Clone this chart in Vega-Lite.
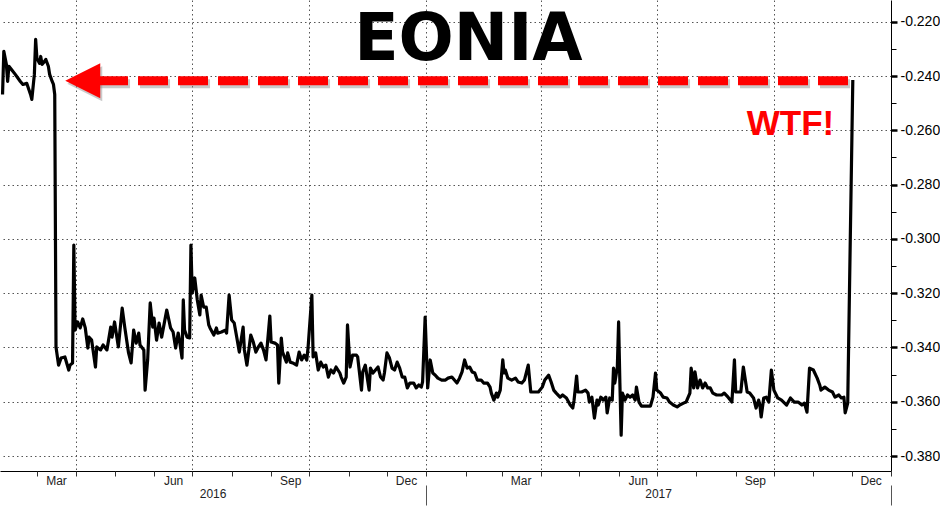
{
  "$schema": "https://vega.github.io/schema/vega-lite/v6.json",
  "width": 891,
  "height": 471,
  "padding": 0,
  "background": "white",
  "config": {
    "view": {"stroke": null},
    "axis": {"labelFont": "Liberation Sans", "labelColor": "#000", "title": null}
  },
  "resolve": {"axis": {"x": "independent", "y": "independent"}},
  "layer": [
    {
      "data": {"values": [{}]},
      "mark": {"type": "rule", "color": "#8a8a8a", "opacity": 0.45, "strokeWidth": 9, "strokeDash": [30, 10], "xOffset": 2, "x2Offset": 2, "yOffset": 3},
      "encoding": {
        "x": {"datum": {"year": 2016, "month": 4, "date": 18, "utc": true}, "type": "temporal", "axis": null},
        "x2": {"datum": {"year": 2017, "month": 12, "date": 1, "utc": true}},
        "y": {"datum": -0.2417, "type": "quantitative", "axis": null}
      }
    },
    {
      "data": {"values": [{}]},
      "mark": {"type": "point", "shape": "M -1 0 L 1 -1 L 1 1 Z", "size": 1225, "filled": true, "color": "#8a8a8a", "opacity": 0.45, "xOffset": 2, "yOffset": 3},
      "encoding": {
        "x": {"datum": {"year": 2016, "month": 4, "date": 6, "utc": true}, "type": "temporal", "axis": null},
        "y": {"datum": -0.2417, "type": "quantitative", "axis": null}
      }
    },
    {
      "data": {"values": [
        {"d": "2016-02-03", "v": -0.2468}, {"d": "2016-02-04", "v": -0.2309}, {"d": "2016-02-06", "v": -0.2357}, {"d": "2016-02-07", "v": -0.2420},
        {"d": "2016-02-08", "v": -0.2364}, {"d": "2016-02-10", "v": -0.2376}, {"d": "2016-02-13", "v": -0.2394}, {"d": "2016-02-17", "v": -0.2420},
        {"d": "2016-02-19", "v": -0.2431}, {"d": "2016-02-22", "v": -0.2427}, {"d": "2016-02-25", "v": -0.2468}, {"d": "2016-02-26", "v": -0.2486},
        {"d": "2016-02-28", "v": -0.2394}, {"d": "2016-02-29", "v": -0.2265}, {"d": "2016-03-01", "v": -0.2335}, {"d": "2016-03-03", "v": -0.2353},
        {"d": "2016-03-04", "v": -0.2328}, {"d": "2016-03-05", "v": -0.2357}, {"d": "2016-03-07", "v": -0.2346}, {"d": "2016-03-08", "v": -0.2339},
        {"d": "2016-03-10", "v": -0.2364}, {"d": "2016-03-11", "v": -0.2394}, {"d": "2016-03-13", "v": -0.2420}, {"d": "2016-03-14", "v": -0.2431},
        {"d": "2016-03-15", "v": -0.2468}, {"d": "2016-03-16", "v": -0.3398}, {"d": "2016-03-18", "v": -0.3465}, {"d": "2016-03-20", "v": -0.3439},
        {"d": "2016-03-23", "v": -0.3435}, {"d": "2016-03-26", "v": -0.3483}, {"d": "2016-03-27", "v": -0.3465}, {"d": "2016-03-29", "v": -0.3457},
        {"d": "2016-03-30", "v": -0.3023}, {"d": "2016-03-31", "v": -0.3336}, {"d": "2016-04-02", "v": -0.3306}, {"d": "2016-04-04", "v": -0.3328},
        {"d": "2016-04-06", "v": -0.3295}, {"d": "2016-04-08", "v": -0.3328}, {"d": "2016-04-10", "v": -0.3402}, {"d": "2016-04-11", "v": -0.3362},
        {"d": "2016-04-13", "v": -0.3373}, {"d": "2016-04-16", "v": -0.3472}, {"d": "2016-04-17", "v": -0.3398}, {"d": "2016-04-20", "v": -0.3409},
        {"d": "2016-04-22", "v": -0.3391}, {"d": "2016-04-25", "v": -0.3409}, {"d": "2016-04-28", "v": -0.3325}, {"d": "2016-04-29", "v": -0.3362},
        {"d": "2016-05-01", "v": -0.3306}, {"d": "2016-05-04", "v": -0.3398}, {"d": "2016-05-07", "v": -0.3255}, {"d": "2016-05-09", "v": -0.3325},
        {"d": "2016-05-12", "v": -0.3420}, {"d": "2016-05-14", "v": -0.3457}, {"d": "2016-05-16", "v": -0.3336}, {"d": "2016-05-18", "v": -0.3384},
        {"d": "2016-05-20", "v": -0.3347}, {"d": "2016-05-21", "v": -0.3391}, {"d": "2016-05-24", "v": -0.3409}, {"d": "2016-05-25", "v": -0.3557},
        {"d": "2016-05-27", "v": -0.3446}, {"d": "2016-05-29", "v": -0.3236}, {"d": "2016-05-31", "v": -0.3325}, {"d": "2016-06-01", "v": -0.3292},
        {"d": "2016-06-03", "v": -0.3373}, {"d": "2016-06-05", "v": -0.3310}, {"d": "2016-06-07", "v": -0.3362}, {"d": "2016-06-11", "v": -0.3262},
        {"d": "2016-06-14", "v": -0.3328}, {"d": "2016-06-16", "v": -0.3343}, {"d": "2016-06-18", "v": -0.3402}, {"d": "2016-06-20", "v": -0.3347},
        {"d": "2016-06-21", "v": -0.3373}, {"d": "2016-06-23", "v": -0.3439}, {"d": "2016-06-24", "v": -0.3225}, {"d": "2016-06-25", "v": -0.3336},
        {"d": "2016-06-27", "v": -0.3362}, {"d": "2016-06-29", "v": -0.3365}, {"d": "2016-06-30", "v": -0.3023}, {"d": "2016-07-01", "v": -0.3199},
        {"d": "2016-07-03", "v": -0.3144}, {"d": "2016-07-05", "v": -0.3225}, {"d": "2016-07-07", "v": -0.3280}, {"d": "2016-07-08", "v": -0.3207},
        {"d": "2016-07-10", "v": -0.3251}, {"d": "2016-07-12", "v": -0.3251}, {"d": "2016-07-14", "v": -0.3317}, {"d": "2016-07-15", "v": -0.3328},
        {"d": "2016-07-18", "v": -0.3354}, {"d": "2016-07-20", "v": -0.3328}, {"d": "2016-07-21", "v": -0.3347}, {"d": "2016-07-24", "v": -0.3343},
        {"d": "2016-07-27", "v": -0.3336}, {"d": "2016-07-28", "v": -0.3347}, {"d": "2016-07-30", "v": -0.3207}, {"d": "2016-08-01", "v": -0.3299},
        {"d": "2016-08-03", "v": -0.3310}, {"d": "2016-08-05", "v": -0.3362}, {"d": "2016-08-07", "v": -0.3417}, {"d": "2016-08-10", "v": -0.3325},
        {"d": "2016-08-11", "v": -0.3409}, {"d": "2016-08-13", "v": -0.3465}, {"d": "2016-08-16", "v": -0.3354}, {"d": "2016-08-18", "v": -0.3380},
        {"d": "2016-08-20", "v": -0.3417}, {"d": "2016-08-22", "v": -0.3398}, {"d": "2016-08-24", "v": -0.3384}, {"d": "2016-08-26", "v": -0.3409},
        {"d": "2016-08-28", "v": -0.3446}, {"d": "2016-08-31", "v": -0.3284}, {"d": "2016-09-01", "v": -0.3380}, {"d": "2016-09-04", "v": -0.3384},
        {"d": "2016-09-06", "v": -0.3391}, {"d": "2016-09-07", "v": -0.3531}, {"d": "2016-09-09", "v": -0.3365}, {"d": "2016-09-10", "v": -0.3417},
        {"d": "2016-09-13", "v": -0.3454}, {"d": "2016-09-14", "v": -0.3420}, {"d": "2016-09-16", "v": -0.3454}, {"d": "2016-09-18", "v": -0.3457},
        {"d": "2016-09-21", "v": -0.3465}, {"d": "2016-09-23", "v": -0.3417}, {"d": "2016-09-25", "v": -0.3446}, {"d": "2016-09-27", "v": -0.3428},
        {"d": "2016-09-29", "v": -0.3446}, {"d": "2016-09-30", "v": -0.3402}, {"d": "2016-10-03", "v": -0.3207}, {"d": "2016-10-04", "v": -0.3435},
        {"d": "2016-10-06", "v": -0.3420}, {"d": "2016-10-08", "v": -0.3483}, {"d": "2016-10-10", "v": -0.3454}, {"d": "2016-10-12", "v": -0.3472},
        {"d": "2016-10-14", "v": -0.3465}, {"d": "2016-10-16", "v": -0.3509}, {"d": "2016-10-18", "v": -0.3483}, {"d": "2016-10-20", "v": -0.3494},
        {"d": "2016-10-22", "v": -0.3472}, {"d": "2016-10-25", "v": -0.3494}, {"d": "2016-10-26", "v": -0.3509}, {"d": "2016-10-28", "v": -0.3531},
        {"d": "2016-10-30", "v": -0.3509}, {"d": "2016-10-31", "v": -0.3317}, {"d": "2016-11-02", "v": -0.3472}, {"d": "2016-11-04", "v": -0.3428},
        {"d": "2016-11-07", "v": -0.3428}, {"d": "2016-11-08", "v": -0.3435}, {"d": "2016-11-11", "v": -0.3557}, {"d": "2016-11-12", "v": -0.3490},
        {"d": "2016-11-14", "v": -0.3465}, {"d": "2016-11-17", "v": -0.3557}, {"d": "2016-11-18", "v": -0.3476}, {"d": "2016-11-20", "v": -0.3494},
        {"d": "2016-11-22", "v": -0.3483}, {"d": "2016-11-24", "v": -0.3472}, {"d": "2016-11-26", "v": -0.3509}, {"d": "2016-11-28", "v": -0.3520},
        {"d": "2016-11-29", "v": -0.3494}, {"d": "2016-12-01", "v": -0.3420}, {"d": "2016-12-03", "v": -0.3439}, {"d": "2016-12-05", "v": -0.3476},
        {"d": "2016-12-07", "v": -0.3483}, {"d": "2016-12-09", "v": -0.3454}, {"d": "2016-12-11", "v": -0.3476}, {"d": "2016-12-13", "v": -0.3509},
        {"d": "2016-12-15", "v": -0.3509}, {"d": "2016-12-17", "v": -0.3549}, {"d": "2016-12-19", "v": -0.3531}, {"d": "2016-12-22", "v": -0.3531},
        {"d": "2016-12-24", "v": -0.3549}, {"d": "2016-12-26", "v": -0.3538}, {"d": "2016-12-28", "v": -0.3546}, {"d": "2016-12-29", "v": -0.3527},
        {"d": "2016-12-31", "v": -0.3288}, {"d": "2017-01-02", "v": -0.3549}, {"d": "2017-01-04", "v": -0.3446}, {"d": "2017-01-06", "v": -0.3494},
        {"d": "2017-01-08", "v": -0.3502}, {"d": "2017-01-10", "v": -0.3513}, {"d": "2017-01-13", "v": -0.3520}, {"d": "2017-01-16", "v": -0.3520},
        {"d": "2017-01-18", "v": -0.3513}, {"d": "2017-01-21", "v": -0.3509}, {"d": "2017-01-23", "v": -0.3520}, {"d": "2017-01-25", "v": -0.3531},
        {"d": "2017-01-27", "v": -0.3513}, {"d": "2017-01-29", "v": -0.3490}, {"d": "2017-01-31", "v": -0.3446}, {"d": "2017-02-02", "v": -0.3476},
        {"d": "2017-02-04", "v": -0.3472}, {"d": "2017-02-06", "v": -0.3490}, {"d": "2017-02-08", "v": -0.3494}, {"d": "2017-02-10", "v": -0.3520},
        {"d": "2017-02-13", "v": -0.3520}, {"d": "2017-02-15", "v": -0.3531}, {"d": "2017-02-18", "v": -0.3531}, {"d": "2017-02-20", "v": -0.3546},
        {"d": "2017-02-21", "v": -0.3568}, {"d": "2017-02-23", "v": -0.3594}, {"d": "2017-02-25", "v": -0.3568}, {"d": "2017-02-26", "v": -0.3583},
        {"d": "2017-02-28", "v": -0.3557}, {"d": "2017-03-02", "v": -0.3446}, {"d": "2017-03-03", "v": -0.3494}, {"d": "2017-03-04", "v": -0.3483},
        {"d": "2017-03-06", "v": -0.3513}, {"d": "2017-03-09", "v": -0.3520}, {"d": "2017-03-12", "v": -0.3513}, {"d": "2017-03-14", "v": -0.3527},
        {"d": "2017-03-17", "v": -0.3531}, {"d": "2017-03-19", "v": -0.3520}, {"d": "2017-03-22", "v": -0.3465}, {"d": "2017-03-24", "v": -0.3564},
        {"d": "2017-03-27", "v": -0.3564}, {"d": "2017-03-30", "v": -0.3564}, {"d": "2017-04-02", "v": -0.3546}, {"d": "2017-04-04", "v": -0.3520},
        {"d": "2017-04-07", "v": -0.3502}, {"d": "2017-04-09", "v": -0.3527}, {"d": "2017-04-11", "v": -0.3557}, {"d": "2017-04-13", "v": -0.3568},
        {"d": "2017-04-16", "v": -0.3583}, {"d": "2017-04-18", "v": -0.3575}, {"d": "2017-04-21", "v": -0.3586}, {"d": "2017-04-24", "v": -0.3612},
        {"d": "2017-04-26", "v": -0.3623}, {"d": "2017-04-27", "v": -0.3594}, {"d": "2017-04-29", "v": -0.3505}, {"d": "2017-04-30", "v": -0.3564},
        {"d": "2017-05-03", "v": -0.3564}, {"d": "2017-05-06", "v": -0.3557}, {"d": "2017-05-08", "v": -0.3568}, {"d": "2017-05-09", "v": -0.3601},
        {"d": "2017-05-11", "v": -0.3583}, {"d": "2017-05-13", "v": -0.3660}, {"d": "2017-05-15", "v": -0.3594}, {"d": "2017-05-16", "v": -0.3612},
        {"d": "2017-05-18", "v": -0.3583}, {"d": "2017-05-20", "v": -0.3594}, {"d": "2017-05-22", "v": -0.3583}, {"d": "2017-05-23", "v": -0.3641},
        {"d": "2017-05-25", "v": -0.3586}, {"d": "2017-05-27", "v": -0.3594}, {"d": "2017-05-28", "v": -0.3476}, {"d": "2017-05-29", "v": -0.3531},
        {"d": "2017-05-31", "v": -0.3472}, {"d": "2017-06-01", "v": -0.3306}, {"d": "2017-06-02", "v": -0.3531}, {"d": "2017-06-03", "v": -0.3723},
        {"d": "2017-06-04", "v": -0.3568}, {"d": "2017-06-06", "v": -0.3594}, {"d": "2017-06-08", "v": -0.3575}, {"d": "2017-06-10", "v": -0.3583},
        {"d": "2017-06-12", "v": -0.3575}, {"d": "2017-06-14", "v": -0.3594}, {"d": "2017-06-15", "v": -0.3546}, {"d": "2017-06-17", "v": -0.3601},
        {"d": "2017-06-19", "v": -0.3616}, {"d": "2017-06-22", "v": -0.3616}, {"d": "2017-06-26", "v": -0.3616}, {"d": "2017-06-28", "v": -0.3583},
        {"d": "2017-06-30", "v": -0.3494}, {"d": "2017-07-01", "v": -0.3557}, {"d": "2017-07-04", "v": -0.3568}, {"d": "2017-07-06", "v": -0.3583},
        {"d": "2017-07-09", "v": -0.3586}, {"d": "2017-07-11", "v": -0.3601}, {"d": "2017-07-14", "v": -0.3612}, {"d": "2017-07-17", "v": -0.3619},
        {"d": "2017-07-19", "v": -0.3612}, {"d": "2017-07-22", "v": -0.3605}, {"d": "2017-07-24", "v": -0.3601}, {"d": "2017-07-27", "v": -0.3568},
        {"d": "2017-07-28", "v": -0.3476}, {"d": "2017-07-30", "v": -0.3549}, {"d": "2017-07-31", "v": -0.3490}, {"d": "2017-08-02", "v": -0.3549},
        {"d": "2017-08-04", "v": -0.3520}, {"d": "2017-08-06", "v": -0.3549}, {"d": "2017-08-08", "v": -0.3531}, {"d": "2017-08-10", "v": -0.3549},
        {"d": "2017-08-12", "v": -0.3549}, {"d": "2017-08-14", "v": -0.3568}, {"d": "2017-08-17", "v": -0.3575}, {"d": "2017-08-21", "v": -0.3575},
        {"d": "2017-08-23", "v": -0.3568}, {"d": "2017-08-26", "v": -0.3583}, {"d": "2017-08-29", "v": -0.3601}, {"d": "2017-08-31", "v": -0.3446},
        {"d": "2017-09-01", "v": -0.3564}, {"d": "2017-09-05", "v": -0.3564}, {"d": "2017-09-07", "v": -0.3472}, {"d": "2017-09-10", "v": -0.3564},
        {"d": "2017-09-12", "v": -0.3568}, {"d": "2017-09-15", "v": -0.3586}, {"d": "2017-09-17", "v": -0.3623}, {"d": "2017-09-19", "v": -0.3594},
        {"d": "2017-09-20", "v": -0.3612}, {"d": "2017-09-21", "v": -0.3656}, {"d": "2017-09-23", "v": -0.3586}, {"d": "2017-09-25", "v": -0.3583},
        {"d": "2017-09-27", "v": -0.3601}, {"d": "2017-09-29", "v": -0.3483}, {"d": "2017-10-01", "v": -0.3557}, {"d": "2017-10-04", "v": -0.3586},
        {"d": "2017-10-07", "v": -0.3594}, {"d": "2017-10-11", "v": -0.3612}, {"d": "2017-10-14", "v": -0.3586}, {"d": "2017-10-17", "v": -0.3601},
        {"d": "2017-10-20", "v": -0.3601}, {"d": "2017-10-23", "v": -0.3612}, {"d": "2017-10-25", "v": -0.3605}, {"d": "2017-10-27", "v": -0.3638},
        {"d": "2017-10-29", "v": -0.3476}, {"d": "2017-11-01", "v": -0.3483}, {"d": "2017-11-04", "v": -0.3513}, {"d": "2017-11-06", "v": -0.3538},
        {"d": "2017-11-07", "v": -0.3557}, {"d": "2017-11-10", "v": -0.3546}, {"d": "2017-11-13", "v": -0.3557}, {"d": "2017-11-16", "v": -0.3564},
        {"d": "2017-11-18", "v": -0.3583}, {"d": "2017-11-21", "v": -0.3575}, {"d": "2017-11-23", "v": -0.3586}, {"d": "2017-11-25", "v": -0.3583},
        {"d": "2017-11-26", "v": -0.3641}, {"d": "2017-11-28", "v": -0.3605}, {"d": "2017-11-30", "v": -0.3004}, {"d": "2017-12-02", "v": -0.2415}
      ]},
      "mark": {"type": "line", "color": "#000", "strokeWidth": 3.2, "strokeJoin": "round"},
      "encoding": {
        "x": {
          "field": "d", "type": "temporal",
          "scale": {"type": "utc", "domain": [{"year": 2016, "month": 2, "date": 1, "utc": true}, {"year": 2018, "month": 1, "date": 1, "utc": true}]},
          "axis": {
            "orient": "bottom", "title": null,
            "values": [
              {"year": 2016, "month": 4, "date": 1, "utc": true}, {"year": 2016, "month": 7, "date": 1, "utc": true},
              {"year": 2016, "month": 10, "date": 1, "utc": true}, {"year": 2017, "month": 1, "date": 1, "utc": true},
              {"year": 2017, "month": 4, "date": 1, "utc": true}, {"year": 2017, "month": 7, "date": 1, "utc": true},
              {"year": 2017, "month": 10, "date": 1, "utc": true}
            ],
            "grid": true, "gridColor": "#555", "gridDash": [1.5, 3], "gridWidth": 1,
            "labels": false, "ticks": false, "tickSize": 0,
            "domain": true, "domainColor": "#000", "domainWidth": 1
          }
        },
        "y": {
          "field": "v", "type": "quantitative",
          "scale": {"domain": [-0.3855, -0.212], "nice": false, "zero": false},
          "axis": {
            "orient": "right", "title": null,
            "values": [-0.22, -0.24, -0.26, -0.28, -0.3, -0.32, -0.34, -0.36, -0.38],
            "labelExpr": "'-' + format(-datum.value, '.3f')",
            "grid": true, "gridColor": "#555", "gridDash": [1.5, 3], "gridWidth": 1,
            "ticks": true, "tickSize": 6, "tickWidth": 2.5, "tickColor": "#000",
            "domain": true, "domainColor": "#000", "domainWidth": 1,
            "labelFontSize": 14, "labelPadding": 3, "labelColor": "#000"
          }
        }
      }
    },
    {
      "data": {"values": [{}]},
      "mark": {"type": "rule", "color": "#ff0000", "strokeWidth": 9, "strokeDash": [30, 10]},
      "encoding": {
        "x": {
          "datum": {"year": 2016, "month": 4, "date": 18, "utc": true}, "type": "temporal",
          "axis": {
            "orient": "bottom", "title": null,
            "values": [
              {"year": 2016, "month": 3, "date": 16, "utc": true}, {"year": 2016, "month": 6, "date": 16, "utc": true},
              {"year": 2016, "month": 9, "date": 16, "utc": true}, {"year": 2016, "month": 12, "date": 16, "utc": true},
              {"year": 2017, "month": 3, "date": 16, "utc": true}, {"year": 2017, "month": 6, "date": 16, "utc": true},
              {"year": 2017, "month": 9, "date": 16, "utc": true}, {"year": 2017, "month": 12, "date": 16, "utc": true}
            ],
            "labelExpr": "utcFormat(datum.value, '%b')",
            "ticks": false, "tickSize": 0, "domain": false, "grid": false,
            "labelFontSize": 12, "labelPadding": 4, "labelColor": "#222", "labelFlush": false, "labelOverlap": false
          }
        },
        "x2": {"datum": {"year": 2017, "month": 12, "date": 1, "utc": true}},
        "y": {"datum": -0.2417, "type": "quantitative", "axis": null}
      }
    },
    {
      "data": {"values": [{}]},
      "mark": {"type": "point", "shape": "M -1 0 L 1 -1 L 1 1 Z", "size": 1225, "filled": true, "color": "#ff0000", "opacity": 1},
      "encoding": {
        "x": {
          "datum": {"year": 2016, "month": 4, "date": 6, "utc": true}, "type": "temporal",
          "axis": {
            "orient": "bottom", "title": null,
            "values": [
              {"year": 2016, "month": 3, "date": 1, "utc": true}, {"year": 2016, "month": 4, "date": 1, "utc": true},
              {"year": 2016, "month": 5, "date": 1, "utc": true}, {"year": 2016, "month": 6, "date": 1, "utc": true},
              {"year": 2016, "month": 7, "date": 1, "utc": true}, {"year": 2016, "month": 8, "date": 1, "utc": true},
              {"year": 2016, "month": 9, "date": 1, "utc": true}, {"year": 2016, "month": 10, "date": 1, "utc": true},
              {"year": 2016, "month": 11, "date": 1, "utc": true}, {"year": 2016, "month": 12, "date": 1, "utc": true},
              {"year": 2017, "month": 1, "date": 1, "utc": true}, {"year": 2017, "month": 2, "date": 1, "utc": true},
              {"year": 2017, "month": 3, "date": 1, "utc": true}, {"year": 2017, "month": 4, "date": 1, "utc": true},
              {"year": 2017, "month": 5, "date": 1, "utc": true}, {"year": 2017, "month": 6, "date": 1, "utc": true},
              {"year": 2017, "month": 7, "date": 1, "utc": true}, {"year": 2017, "month": 8, "date": 1, "utc": true},
              {"year": 2017, "month": 9, "date": 1, "utc": true}, {"year": 2017, "month": 10, "date": 1, "utc": true},
              {"year": 2017, "month": 11, "date": 1, "utc": true}, {"year": 2017, "month": 12, "date": 1, "utc": true},
              {"year": 2018, "month": 1, "date": 1, "utc": true}
            ],
            "labels": false, "ticks": true, "tickSize": 5, "tickColor": "#333", "tickWidth": 1,
            "domain": false, "grid": false
          }
        },
        "y": {"datum": -0.2417, "type": "quantitative", "axis": null}
      }
    },
    {
      "data": {"values": [{}]},
      "mark": {"type": "text", "text": "WTF!", "font": "Liberation Sans", "fontWeight": "bold", "fontSize": 35, "color": "#ff0000", "align": "center", "baseline": "alphabetic"},
      "encoding": {
        "x": {
          "datum": {"year": 2017, "month": 10, "date": 14, "utc": true}, "type": "temporal",
          "axis": {
            "orient": "bottom", "title": null,
            "values": [{"year": 2016, "month": 7, "date": 17, "utc": true}, {"year": 2017, "month": 7, "date": 2, "utc": true}],
            "labelExpr": "utcFormat(datum.value, '%Y')",
            "ticks": false, "tickSize": 0, "domain": false, "grid": false,
            "labelFontSize": 12, "labelPadding": 17, "labelColor": "#222", "labelFlush": false, "labelOverlap": false
          }
        },
        "y": {
          "datum": -0.2617, "type": "quantitative",
          "axis": {
            "orient": "right", "title": null,
            "values": [-0.23, -0.25, -0.27, -0.29, -0.31, -0.33, -0.35, -0.37],
            "labels": false, "grid": false, "domain": false,
            "ticks": true, "tickSize": 5, "tickColor": "#000", "tickWidth": 1
          }
        }
      }
    },
    {
      "data": {"values": [{}]},
      "mark": {"type": "text", "text": "EONIA", "font": "DejaVu Sans", "fontWeight": "bold", "fontSize": 65, "color": "#000", "align": "center", "baseline": "alphabetic"},
      "encoding": {
        "x": {
          "datum": {"year": 2017, "month": 2, "date": 3, "utc": true}, "type": "temporal",
          "axis": {
            "orient": "bottom", "title": null,
            "values": [{"year": 2017, "month": 1, "date": 1, "utc": true}, {"year": 2018, "month": 1, "date": 1, "utc": true}],
            "labels": false, "ticks": true, "tickSize": 20, "tickColor": "#555", "tickWidth": 1, "offset": 14,
            "domain": false, "grid": false
          }
        },
        "y": {"datum": -0.2341, "type": "quantitative", "axis": null}
      }
    }
  ]
}
